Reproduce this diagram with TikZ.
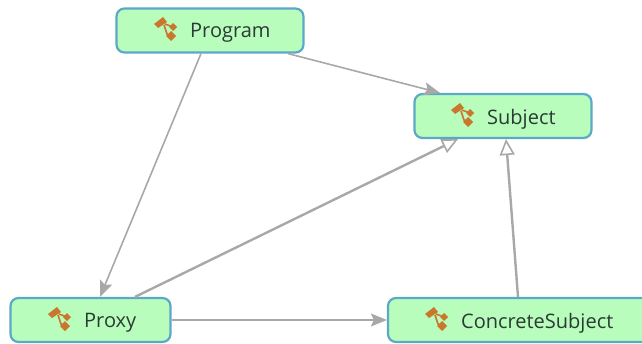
\documentclass[tikz,border=0pt]{standalone}
\usepackage{fontspec}
\setmainfont{Open Sans}
\usetikzlibrary{arrows.meta}
\definecolor{boxfill}{HTML}{B9FDBC}
\definecolor{boxline}{HTML}{5CA8C8}
\definecolor{linkgray}{HTML}{A8A8A8}
\definecolor{iconorange}{HTML}{C9772C}
\definecolor{labelink}{HTML}{2A3A34}
\tikzset{
	classbox/.style={draw=boxline,fill=boxfill,line width=2.2pt,rounded corners=8pt,inner sep=0pt,minimum height=44pt},
	classtext/.style={inner sep=0pt,text=labelink,font=\fontsize{20}{22}\selectfont},
	uses/.style={draw=linkgray,line width=1.6pt,-{Stealth[length=16pt,width=13pt,inset=3pt]}},
	inherits/.style={draw=linkgray,line width=2.4pt,-{Triangle[open,fill=white,length=16pt,width=15pt,line width=1.6pt]}},
	classicon/.pic={
		\draw[iconorange,line width=1.6pt] (-1,-6)--(7,-3) (-2,-5)--(1,4)--(5,6);
		\fill[iconorange] (-12,-6)--(-3,-13)--(1,-8)--(-8,-2)--cycle;
		\fill[iconorange] (3,-3)--(7,-7)--(11,-3)--(7,1)--cycle;
		\fill[iconorange] (0,6)--(5,1)--(10,6)--(5,11)--cycle;
	}
}
\begin{document}
\begin{tikzpicture}[x=1pt,y=-1pt,line join=round]
	\useasboundingbox (0,0) rectangle (642,343);
	\clip (0,0) rectangle (642,343);
	\node[classbox,minimum width=187pt] (program) at (210,30.5) {};
	\node[classbox,minimum width=177pt] (subject) at (503,116) {};
	\node[classbox,minimum width=160pt] (proxy) at (90.5,320) {};
	\node[classbox,minimum width=262pt] (concrete) at (519,320) {};
	% links
	\draw[uses] ([xshift=-9pt]program.south) -- ([xshift=9.5pt]proxy.north);
	\draw[uses] ([xshift=78pt]program.south) -- ([xshift=-63pt]subject.north);
	\draw[uses] (proxy.east) -- (concrete.west);
	\draw[inherits] ([xshift=44.5pt]proxy.north) -- ([xshift=-45pt]subject.south);
	\draw[inherits] ([xshift=-1pt]concrete.north) -- ([xshift=3pt]subject.south);
	% labels
	\pic at (166,30) {classicon};
	\node[classtext,anchor=west] (programtext) at (190,33) {Program};
	\pic at (463,116) {classicon};
	\node[classtext,anchor=west] (subjecttext) at (487,119) {Subject};
	\pic at (60,320) {classicon};
	\node[classtext,anchor=west] (proxytext) at (84,323) {Proxy};
	\pic at (437,320) {classicon};
	\node[classtext,anchor=west] (concretetext) at (461,323) {ConcreteSubject};
\end{tikzpicture}
\end{document}
